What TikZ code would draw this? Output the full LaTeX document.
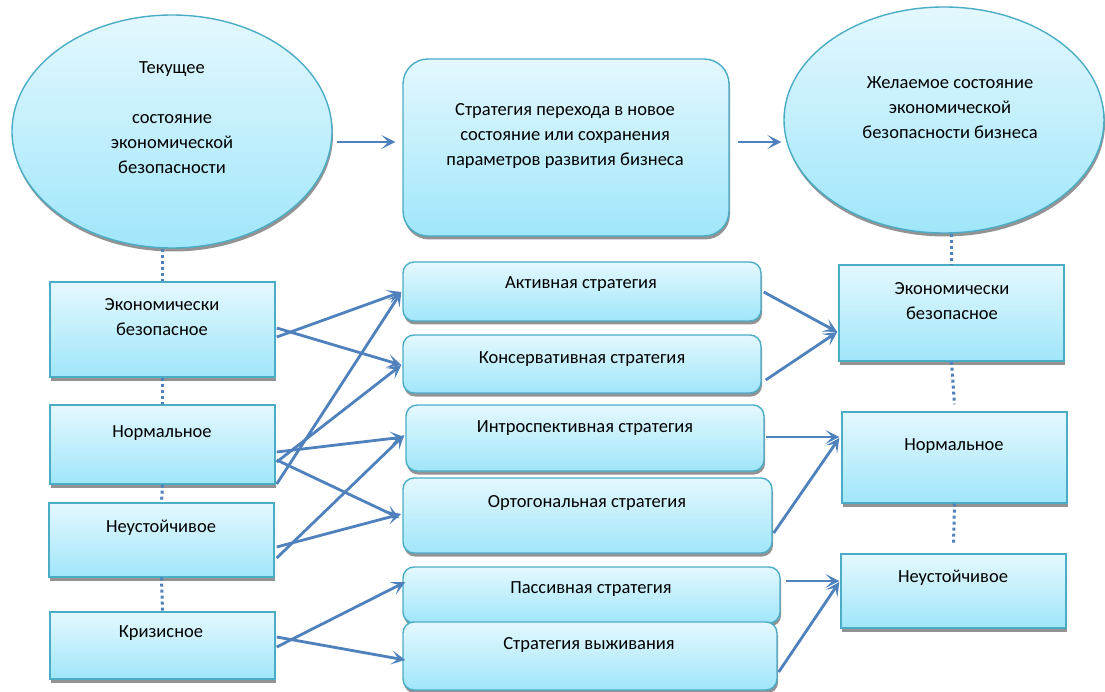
\documentclass[tikz,border=0pt]{standalone}
\usepackage{fontspec}
\setmainfont{Carlito}
\usetikzlibrary{shapes.geometric,shadows,calc,arrows.meta}
\definecolor{edgeC}{HTML}{4BACC6}
\definecolor{lineC}{HTML}{4F81BD}
\definecolor{topC}{HTML}{E4F8FE}
\definecolor{botC}{HTML}{A0E6FA}
\tikzset{
 base/.style={draw=edgeC, line width=1.4pt, top color=topC, bottom color=botC,
   drop shadow={shadow xshift=1pt, shadow yshift=-3.5pt, fill=black!50, opacity=0.85}, inner sep=0pt},
 oval/.style={base, ellipse},
 rbox/.style={base, rounded corners=#1},
 rbox/.default=11pt,
 sbox/.style={base},
 txt/.style={align=center, font=\fontsize{18.5}{25}\selectfont, inner sep=0pt},
 conn/.style={draw=lineC, line width=2.8pt, -{Stealth[length=14pt,width=14pt,inset=7pt]}},
 dots/.style={draw=lineC, line width=3pt, dash pattern=on 3pt off 3pt},
}
\begin{document}
\begin{tikzpicture}[x=1pt,y=-1pt]
\useasboundingbox (0,0) rectangle (1105,692);
% top row
\node[oval, minimum width=320pt, minimum height=233pt] (e1) at (172,131.5) {};
\node[rbox=25pt, minimum width=326pt, minimum height=177pt] (m) at (566,147.5) {};
\node[oval, minimum width=320pt, minimum height=226pt] (e2) at (944,120) {};
% left column
\node[sbox, minimum width=225pt, minimum height=95pt] (l1) at (162.5,329.5) {};
\node[sbox, minimum width=225pt, minimum height=79pt] (l2) at (162.5,444.5) {};
\node[sbox, minimum width=225pt, minimum height=74pt] (l3) at (161.5,540) {};
\node[sbox, minimum width=225pt, minimum height=67pt] (l4) at (162.5,645.5) {};
% strategies
\node[rbox, minimum width=358pt, minimum height=59pt] (s1) at (582,291.5) {};
\node[rbox, minimum width=358pt, minimum height=58pt] (s2) at (582,364) {};
\node[rbox, minimum width=358pt, minimum height=66pt] (s3) at (585,438) {};
\node[rbox, minimum width=369pt, minimum height=75pt] (s4) at (587.5,515.5) {};
\node[rbox, minimum width=377pt, minimum height=56pt] (s5) at (591.5,595) {};
\node[rbox, minimum width=374pt, minimum height=68pt] (s6) at (590,656) {};
% right column
\node[sbox, minimum width=225pt, minimum height=96pt] (r1) at (951.5,313) {};
\node[sbox, minimum width=225pt, minimum height=91pt] (r2) at (954.5,457.5) {};
\node[sbox, minimum width=225pt, minimum height=74pt] (r3) at (953.5,591) {};
% texts
\node[txt] (te1) at (172,118) {Текущее\\ \\состояние\\экономической\\безопасности};
\node[txt] (tm) at (565,136) {Стратегия перехода в новое\\состояние или сохранения\\параметров развития бизнеса};
\node[txt] (te2) at (950,108) {Желаемое состояние\\экономической\\безопасности бизнеса};
\node[txt] (tl1) at (162,317) {Экономически\\безопасное};
\node[txt] (tl2) at (162,433) {Нормальное};
\node[txt] (tl3) at (161,528) {Неустойчивое};
\node[txt] (tl4) at (161,633) {Кризисное};
\node[txt] (ts1) at (581,284) {Активная стратегия};
\node[txt] (ts2) at (582,359) {Консервативная стратегия};
\node[txt] (ts3) at (585,428) {Интроспективная стратегия};
\node[txt] (ts4) at (587,503) {Ортогональная стратегия};
\node[txt] (ts5) at (591,589) {Пассивная стратегия};
\node[txt] (ts6) at (589,645) {Стратегия выживания};
\node[txt] (tr1) at (952,301) {Экономически\\безопасное};
\node[txt] (tr2) at (954,446) {Нормальное};
\node[txt] (tr3) at (953,578) {Неустойчивое};
% dotted links
\draw[dots] (l1.north |- e1.south) -- (l1.north);
\draw[dots] (l1.south) -- (l2.north);
\draw[dots] (l2.south) -- (l3.north);
\draw[dots] (l3.south) -- (l4.north);
\draw[dots] (r1.north |- e2.south) -- (r1.north);
\draw[dots] (r1.south) -- ($(r2.north)+(0,-7)$);
\draw[dots] (r2.south) -- ($(r3.north)+(0,-9)$);
% top arrows
\draw[conn] ($(e1.east)+(4,10.5)$) -- ($(m.west)+(-7,-5.5)$);
\draw[conn] ($(m.east)+(8,-5.5)$) -- ($(e2.west)+(-2,22)$);
% left to strategies
\draw[conn] ($(l1.east)+(1,7.5)$) -- ($(s1.west)+(-1,0.5)$);
\draw[conn] ($(l1.east)+(1,-1.5)$) -- ($(s2.west)+(-1,1)$);
\draw[conn] ($(l2.east)+(1,7.5)$) -- ($(s3.west)+(-1,-1)$);
\draw[conn] ($(l2.east)+(1,15.5)$) -- ($(s4.west)+(-3,2.5)$);
\draw[conn] ($(l2.east)+(1,17.5)$) -- ($(s2.west)+(-1,1)$);
\draw[conn] ($(l2.east)+(1,39.5)$) -- ($(s1.west)+(-1,0.5)$);
\draw[conn] ($(l3.east)+(2,7)$) -- ($(s4.west)+(-1,-1.5)$);
\draw[conn] ($(l3.east)+(2,18)$) -- ($(s3.west)+(-1,-3)$);
\draw[conn] ($(l4.east)+(1,1.5)$) -- ($(s5.west)+(3,-13)$);
\draw[conn] ($(l4.east)+(1,-8.5)$) -- ($(s6.west)+(3,4)$);
% strategies to right
\draw[conn] ($(s1.east)+(2,0.5)$) -- ($(r1.west)+(-1,19)$);
\draw[conn] ($(s2.east)+(4,16)$) -- ($(r1.west)+(-1,19)$);
\draw[conn] ($(s3.east)+(1,-1)$) -- ($(r2.west)+(-2,-20.5)$);
\draw[conn] ($(s4.east)+(1,17.5)$) -- ($(r2.west)+(-2,-19.5)$);
\draw[conn] ($(s5.east)+(5,-14)$) -- ($(r3.west)+(-1,-10)$);
\draw[conn] ($(s6.east)+(1,16)$) -- ($(r3.west)+(-1,-9)$);
\end{tikzpicture}
\end{document}
